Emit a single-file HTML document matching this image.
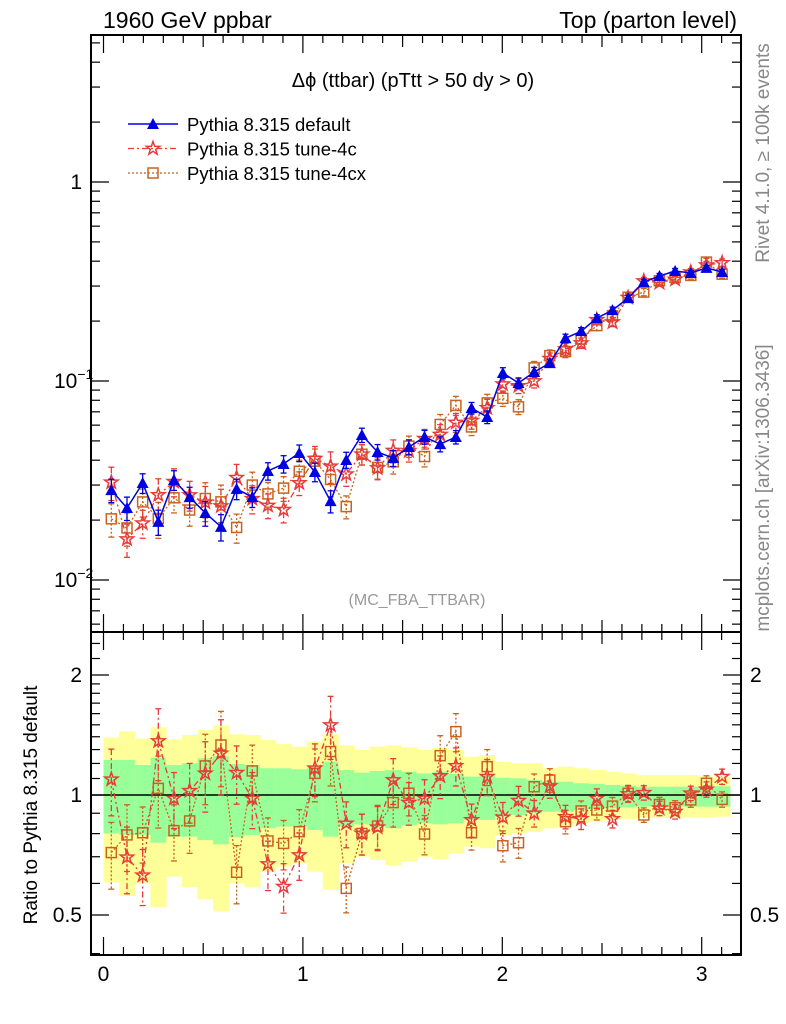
<!DOCTYPE html>
<html><head><meta charset="utf-8">
<style>
html,body{margin:0;padding:0;background:#fff;}
svg{display:block;font-family:"Liberation Sans",Arial,sans-serif;}
</style></head>
<body>
<svg id="chart" width="786" height="1024" viewBox="0 0 786 1024" xmlns="http://www.w3.org/2000/svg">
<defs>
<clipPath id="clipMain"><rect x="91" y="35" width="650" height="597"/></clipPath>
<clipPath id="clipRatio"><rect x="91" y="632" width="650" height="323"/></clipPath>
</defs>
<rect x="0" y="0" width="786" height="1024" fill="#fff"/>
<g id="ratioBands" clip-path="url(#clipRatio)"></g>
<g id="mainMarks" clip-path="url(#clipMain)"></g>
<g id="ratioMarks" clip-path="url(#clipRatio)"></g>
<g id="axes"></g>
<text x="103" y="28" font-size="23">1960 GeV ppbar</text>
<text x="737" y="28" font-size="23" text-anchor="end">Top (parton level)</text>
<text x="413" y="87" font-size="20" text-anchor="middle">Δϕ (ttbar) (pTtt &gt; 50 dy &gt; 0)</text>
<text x="417" y="605" font-size="16" fill="#999" text-anchor="middle">(MC_FBA_TTBAR)</text>
<text transform="translate(769,153) rotate(-90)" font-size="19" fill="#888" text-anchor="middle">Rivet 4.1.0, ≥ 100k events</text>
<text transform="translate(769,488) rotate(-90)" font-size="19" fill="#888" text-anchor="middle">mcplots.cern.ch [arXiv:1306.3436]</text>
<text transform="translate(37,805) rotate(-90)" font-size="19" text-anchor="middle">Ratio to Pythia 8.315 default</text>
<g id="legend"></g>
</svg>
<script>
// ---- data ----
const nBins = 40;
const xMin = 0, xMax = Math.PI;
const defaultVals = [0.0283,0.0230,0.0307,0.0196,0.0318,0.0261,0.0217,0.0185,0.0287,0.0261,
0.0353,0.0383,0.0435,0.0349,0.0249,0.0401,0.0535,0.0440,0.0410,0.0466,
0.0523,0.0482,0.0523,0.0731,0.0659,0.1097,0.0977,0.111,0.123,0.164,
0.178,0.207,0.227,0.261,0.314,0.337,0.357,0.349,0.370,0.353];
const ratio4c = [1.095,0.698,0.629,1.366,0.981,1.025,1.133,1.272,1.138,0.981,
0.671,0.589,0.707,1.167,1.498,0.849,0.801,0.830,1.090,0.957,
0.981,1.116,1.183,0.866,1.112,0.879,0.968,0.900,1.053,0.882,
0.871,0.981,0.871,1.006,1.013,0.926,0.908,1.010,1.033,1.112];
const ratio4cx = [0.717,0.794,0.804,1.039,0.814,0.861,1.183,1.335,0.640,1.149,
0.767,0.756,0.809,1.133,1.285,0.583,0.801,0.836,0.957,1.010,
0.798,1.255,1.442,0.804,1.178,0.746,0.759,1.049,1.090,0.857,
0.912,0.917,0.938,1.010,0.891,0.947,0.929,0.972,1.070,0.975];
const yellowHi = [1.395,1.445,1.385,1.479,1.379,1.414,1.456,1.496,1.420,1.414,1.374,1.342,1.322,1.361,1.420,1.332,1.297,1.322,1.332,1.317,1.297,1.315,1.297,1.248,1.260,1.210,1.201,1.201,1.167,1.178,1.167,1.155,1.144,1.133,1.122,1.122,1.122,1.122,1.112,1.112];
const greenHi = [1.224,1.224,1.189,1.241,1.189,1.201,1.236,1.252,1.196,1.189,1.167,1.167,1.160,1.178,1.212,1.155,1.138,1.149,1.155,1.144,1.133,1.144,1.129,1.112,1.122,1.105,1.101,1.090,1.080,1.080,1.070,1.066,1.060,1.055,1.049,1.049,1.049,1.049,1.052,1.052];
const greenLo = [0.801,0.794,0.794,0.759,0.786,0.786,0.771,0.752,0.783,0.794,0.825,0.833,0.833,0.817,0.786,0.833,0.844,0.833,0.825,0.839,0.849,0.844,0.849,0.866,0.866,0.882,0.891,0.900,0.908,0.908,0.917,0.922,0.926,0.931,0.935,0.935,0.935,0.935,0.935,0.935];
const yellowLo = [0.603,0.558,0.600,0.523,0.624,0.587,0.547,0.510,0.600,0.587,0.642,0.661,0.674,0.642,0.578,0.674,0.700,0.687,0.665,0.681,0.700,0.690,0.714,0.742,0.735,0.794,0.801,0.809,0.825,0.833,0.849,0.857,0.866,0.871,0.877,0.877,0.877,0.877,0.877,0.882];
const xTickLabels = ["0","1","2","3"];
const ratioTickVals = [0.5,1,2];
const ratioTickLabels = ["0.5","1","2"];

// ---- axes functions ----
const X0 = 103.5, XS = 199.4;
function xPix(v){ return X0 + XS*v; }
function yMain(v){ return 182 - 199*Math.log10(v); }
function yRatio(r){ return 795 - 398.6*Math.log10(r); }

const NS = "http://www.w3.org/2000/svg";
function mk(tag, attrs, parent){
  const e = document.createElementNS(NS, tag);
  for (const k in attrs) e.setAttribute(k, attrs[k]);
  parent.appendChild(e); return e;
}
const bw = (xMax-xMin)/nBins;
const centers = [];
for (let i=0;i<nBins;i++) centers.push(xMin+(i+0.5)*bw);

// bands
const gB = document.getElementById('ratioBands');
for (let i=0;i<nBins;i++){
  const x1 = xPix(xMin+i*bw), x2 = xPix(xMin+(i+1)*bw);
  const y = mk('rect',{x:x1,y:yRatio(yellowHi[i]),width:x2-x1+0.5,height:yRatio(yellowLo[i])-yRatio(yellowHi[i]),fill:'#ffff99'},gB);
  
  
  const g = mk('rect',{x:x1,y:yRatio(greenHi[i]),width:x2-x1+0.5,height:yRatio(greenLo[i])-yRatio(greenHi[i]),fill:'#99ff99'},gB);
  
  
}
const oneLine = mk('line',{x1:91,x2:741,y1:yRatio(1),y2:yRatio(1),stroke:'#000','stroke-width':1.5},gB);



const series = [
  {name:'default', color:'#0000e0', dash:'', marker:'tri', vals: defaultVals.map(v=>v), ratio: defaultVals.map(()=>1), width:1.5},
  {name:'tune-4c', color:'#e83a3a', dash:'6,3,2,3', marker:'star', vals: defaultVals.map((v,i)=>v*ratio4c[i]), ratio: ratio4c, width:1.3},
  {name:'tune-4cx', color:'#c8641e', dash:'2,2', marker:'sq', vals: defaultVals.map((v,i)=>v*ratio4cx[i]), ratio: ratio4cx, width:1.3}
];

function marker(type, x, y, color, parent){
  let e;
  if (type==='tri'){
    e = mk('polygon',{points:`${x},${y-6} ${x-6},${y+5} ${x+6},${y+5}`,fill:color},parent);
  } else if (type==='sq'){
    e = mk('rect',{x:x-5,y:y-5,width:10,height:10,fill:'none',stroke:color,'stroke-width':1.5},parent);
  } else {
    let pts=[];
    for (let k=0;k<10;k++){ const r = k%2?2.8:7; const a = -Math.PI/2 + k*Math.PI/5; pts.push((x+r*Math.cos(a)).toFixed(1)+','+(y+r*Math.sin(a)).toFixed(1)); }
    e = mk('polygon',{points:pts.join(' '),fill:'none',stroke:color,'stroke-width':1.5},parent);
  }
  return e;
}

function drawSeries(s, parent, yFn, vals, errRel, isRatio){
  const g = mk('g',{},parent);
  
  
  const pts = centers.map((c,i)=>xPix(c).toFixed(1)+','+yFn(vals[i]).toFixed(1)).join(' ');
  const pl = mk('polyline',{points:pts,fill:'none',stroke:s.color,'stroke-width':s.width,'stroke-dasharray':s.dash},g);
  
  
  for (let i=0;i<nBins;i++){
    const x = xPix(centers[i]);
    const hi = yFn(vals[i]*(1+errRel[i])), lo = yFn(vals[i]*(1-errRel[i]));
    const eb = mk('line',{x1:x,x2:x,y1:hi,y2:lo,stroke:s.color,'stroke-width':1.3,'stroke-dasharray':s.dash},g);
    
    
    mk('line',{x1:x-3,x2:x+3,y1:hi,y2:hi,stroke:s.color,'stroke-width':1.3},g);
    mk('line',{x1:x-3,x2:x+3,y1:lo,y2:lo,stroke:s.color,'stroke-width':1.3},g);
    const m = marker(s.marker, x, yFn(vals[i]), s.color, g);
    
    
  }
}
const errDefault = greenHi.map(v=>(v-1)*0.6);
const errTune = greenHi.map(v=>(v-1)*0.85);
const gM = document.getElementById('mainMarks');
drawSeries(series[2], gM, yMain, series[2].vals, errTune, false);
drawSeries(series[1], gM, yMain, series[1].vals, errTune, false);
drawSeries(series[0], gM, yMain, series[0].vals, errDefault, false);
const gR = document.getElementById('ratioMarks');
drawSeries(series[2], gR, yRatio, series[2].ratio, errTune, true);
drawSeries(series[1], gR, yRatio, series[1].ratio, errTune, true);

// axes
const gA = document.getElementById('axes');
const f1 = mk('rect',{x:91,y:35,width:650,height:597,fill:'none',stroke:'#000','stroke-width':2},gA);


const f2 = mk('rect',{x:91,y:632,width:650,height:323,fill:'none',stroke:'#000','stroke-width':2},gA);


// x ticks
for (let k=0;k<=31;k++){
  const v = k/10, x = xPix(v);
  const len = (k%10===0)?18:(k%5===0?12:8);
  [35,632].forEach(y0=>mk('line',{x1:x,x2:x,y1:y0,y2:y0+len,stroke:'#000','stroke-width':1.2},gA));
  [632,955].forEach(y0=>mk('line',{x1:x,x2:x,y1:y0,y2:y0-len,stroke:'#000','stroke-width':1.2},gA));
}
xTickLabels.forEach((t,i)=>{
  const e = mk('text',{x:xPix(i),y:981,'font-size':21,'text-anchor':'middle'},gA);
  e.textContent = t;
  
  
});
// main y ticks
for (let d=-3; d<=0; d++){
  for (let m=1;m<=9;m++){
    const v = m*Math.pow(10,d); const y = yMain(v);
    if (y<35||y>632) continue;
    const len = m===1?18:9;
    mk('line',{x1:91,x2:91+len,y1:y,y2:y,stroke:'#000','stroke-width':1.2},gA);
    mk('line',{x1:741,x2:741-len,y1:y,y2:y,stroke:'#000','stroke-width':1.2},gA);
  }
}
const l1 = mk('text',{x:82,y:yMain(1)+7,'font-size':21,'text-anchor':'end'},gA); l1.textContent='1';
 
[[-1,yMain(0.1)],[-2,yMain(0.01)]].forEach(([p,y])=>{
  const t = mk('text',{x:54,y:y+7,'font-size':21},gA);
  
  
  t.textContent='10';
  const s = mk('tspan',{dy:-9,'font-size':14},t); s.textContent='−'+(-p);
});
// ratio y ticks
[0.4,0.5,0.6,0.7,0.8,0.9,1,2].forEach(v=>{
  const y=yRatio(v); const len=(v===0.5||v===1||v===2)?18:9;
  mk('line',{x1:91,x2:91+len,y1:y,y2:y,stroke:'#000','stroke-width':1.2},gA);
  mk('line',{x1:741,x2:741-len,y1:y,y2:y,stroke:'#000','stroke-width':1.2},gA);
});
[1.1,1.2,1.3,1.4,1.5,1.6,1.7,1.8,1.9,2.2,2.4].forEach(v=>{
  const y=yRatio(v);
  mk('line',{x1:91,x2:100,y1:y,y2:y,stroke:'#000','stroke-width':1.2},gA);
  mk('line',{x1:741,x2:732,y1:y,y2:y,stroke:'#000','stroke-width':1.2},gA);
});
ratioTickVals.forEach((v,i)=>{
  const a = mk('text',{x:82,y:yRatio(v)+7,'font-size':21,'text-anchor':'end'},gA); a.textContent=ratioTickLabels[i];
   
  const b = mk('text',{x:750,y:yRatio(v)+7,'font-size':21},gA); b.textContent=ratioTickLabels[i];
   
});
// legend
const gL = document.getElementById('legend');
const legendNames = ['Pythia 8.315 default','Pythia 8.315 tune-4c','Pythia 8.315 tune-4cx'];
series.forEach((s,i)=>{
  const y = 124 + i*24.5;
  const ln = mk('line',{x1:128,x2:178,y1:y,y2:y,stroke:s.color,'stroke-width':s.width,'stroke-dasharray':s.dash},gL);
  
  
  const m = marker(s.marker,153,y,s.color,gL);
  
  
  const t = mk('text',{x:187,y:y+7,'font-size':18.5},gL); t.textContent = legendNames[i];
  
  
});
</script>
</body></html>
